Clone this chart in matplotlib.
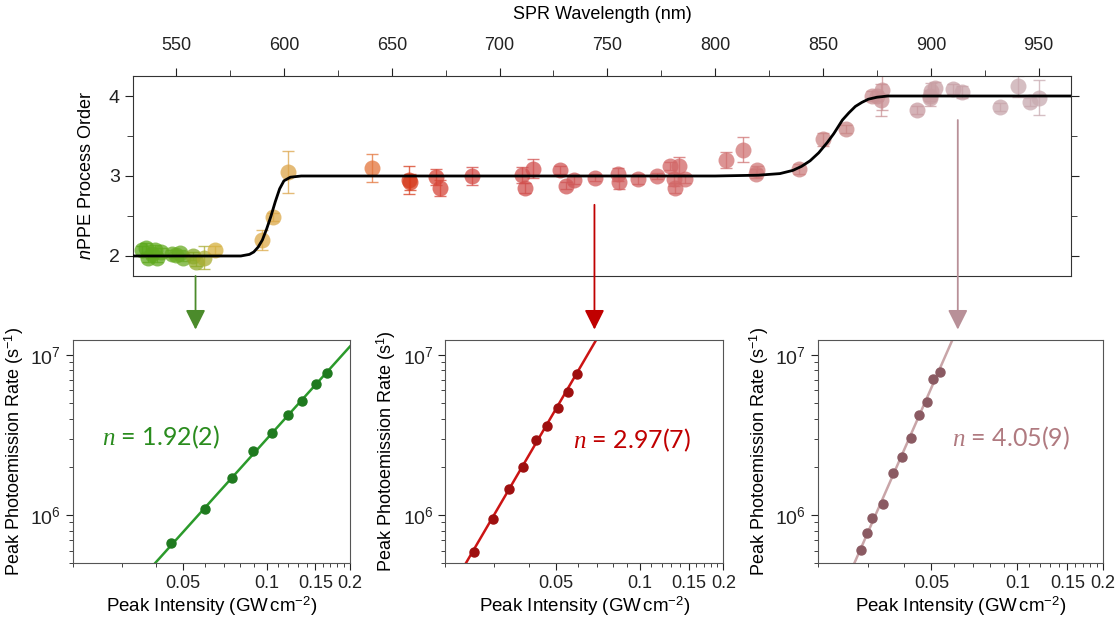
import numpy as np
import matplotlib
matplotlib.use('Agg')
import matplotlib.pyplot as plt
from matplotlib.colors import LinearSegmentedColormap
from matplotlib.ticker import FixedLocator, MultipleLocator, NullFormatter, LogLocator

plt.rcParams['font.family'] = ['Liberation Sans', 'DejaVu Sans']
plt.rcParams['mathtext.fontset'] = 'custom'
plt.rcParams['mathtext.rm'] = 'Liberation Sans'
plt.rcParams['mathtext.it'] = 'Liberation Serif:italic'
plt.rcParams['mathtext.sf'] = 'Liberation Sans:italic'

# --- top panel: process order vs SPR wavelength ---
wl = [534, 536, 537, 539, 540, 541, 543, 548, 550, 552, 553, 558, 559, 563, 568,
      590, 595, 602, 641, 658, 658.5, 670.5, 672.5, 687, 710.5, 711.6, 715.4,
      728, 731, 734.4, 744.3, 755, 755.5, 764, 773, 779, 783, 781, 781.5, 786,
      805, 813, 819.6, 819, 839, 850, 860.8, 872.8, 875, 877.5, 876.7, 893.8,
      899.5, 900.3, 901.7, 899.8, 910.5, 914.5, 932.3, 940.6, 946.2, 950.3]
order = [2.07, 2.10, 1.98, 2.03, 2.08, 1.97, 2.05, 2.03, 2.01, 2.04, 1.98, 2.00, 1.93, 1.98, 2.07,
         2.20, 2.49, 3.05, 3.10, 2.95, 2.93, 2.99, 2.85, 3.00, 3.01, 2.85, 3.09,
         3.07, 2.88, 2.95, 2.98, 3.02, 2.92, 2.96, 3.00, 3.12, 3.13, 2.96, 2.85, 2.96,
         3.20, 3.33, 3.07, 3.03, 3.09, 3.46, 3.59, 4.00, 4.00, 4.08, 3.95, 3.83,
         4.00, 4.06, 4.10, 3.97, 4.09, 4.05, 3.86, 4.12, 3.92, 3.98]
order_err = [0.06, 0.06, 0.05, 0.05, 0.06, 0.04, 0.05, 0.04, 0.04, 0.04, 0.04, 0.05, 0.06, 0.14, 0.05,
             0.12, 0.05, 0.26, 0.18, 0.18, 0.10, 0.10, 0.10, 0.11, 0.10, 0.06, 0.12,
             0.05, 0.04, 0.05, 0.04, 0.08, 0.08, 0.06, 0.04, 0.05, 0.11, 0.08, 0.06, 0.05,
             0.10, 0.16, 0.06, 0.06, 0.06, 0.08, 0.05, 0.06, 0.06, 0.26, 0.20, 0.05,
             0.06, 0.10, 0.08, 0.10, 0.06, 0.08, 0.05, 0.13, 0.05, 0.22]

# step curve
curve_wl = [530, 560, 580, 584, 586, 588, 590, 592, 594, 596, 598, 600, 603, 608, 620,
            700, 800, 820, 830, 836, 840, 844, 848, 852, 855, 859, 862, 865, 868, 871,
            875, 880, 890, 965]
curve_n = [2.00, 2.00, 2.00, 2.02, 2.05, 2.11, 2.20, 2.34, 2.50, 2.68, 2.84, 2.94, 2.985, 3.00, 3.00,
           3.00, 3.00, 3.01, 3.03, 3.07, 3.12, 3.19, 3.29, 3.42, 3.53, 3.70, 3.79, 3.87, 3.92, 3.96,
           3.985, 4.00, 4.00, 4.00]

# --- lower panels: rate vs intensity ---
I_1 = [0.0451, 0.0600, 0.0749, 0.0896, 0.105, 0.1199, 0.1346, 0.1509, 0.1648]
R_1 = [6.65e5, 1.09e6, 1.71e6, 2.52e6, 3.24e6, 4.22e6, 5.18e6, 6.59e6, 7.74e6]
fit_I_1 = [0.0396, 0.2]
fit_R_1 = [5.0e5, 1.13e7]

I_2 = [0.0254, 0.0298, 0.0340, 0.0382, 0.0423, 0.0466, 0.0507, 0.0551, 0.0594]
R_2 = [5.87e5, 9.5e5, 1.46e6, 2.01e6, 2.93e6, 3.60e6, 4.69e6, 5.87e6, 7.57e6]
fit_I_2 = [0.0237, 0.0697]
fit_R_2 = [5.0e5, 1.236e7]

I_3 = [0.0282, 0.0296, 0.0310, 0.0339, 0.0367, 0.0395, 0.0423, 0.0452, 0.0481, 0.0505, 0.0536]
R_3 = [6.03e5, 7.76e5, 9.53e5, 1.17e6, 1.84e6, 2.31e6, 3.05e6, 4.24e6, 5.08e6, 7.03e6, 7.82e6]
fit_I_3 = [0.0268, 0.0592]
fit_R_3 = [5.0e5, 1.24e7]

n_labels = ['1.92(2)', '2.97(7)', '4.05(9)']
arrow_wl = [559, 744, 912.5]
arrow_start = [1.75, 2.64, 3.70]
arrow_cols = ['#4b8b2b', '#c00000', '#b89098']

fig = plt.figure(figsize=(11.2, 6.17), dpi=100)

# colour along the wavelength axis
stops = [(530, '#58a81a'), (552, '#6aab25'), (560, '#94aa2a'), (568, '#d9b040'),
         (600, '#dca64a'), (640, '#e4783c'), (658, '#d63c1e'), (675, '#d64840'),
         (720, '#d05252'), (790, '#d26a6a'), (820, '#cf7878'), (860, '#c98686'),
         (880, '#c99297'), (910, '#c8a2a8'), (965, '#c8acb2')]
cmap = LinearSegmentedColormap.from_list(
    'spr', [((w - 530) / (965 - 530), c) for w, c in stops])

ax = fig.add_axes([0.11875, 0.5527, 0.8375, 0.3241])
for w, o, e in zip(wl, order, order_err):
    c = cmap((w - 530) / (965 - 530))
    ax.errorbar(w, o, yerr=e, fmt='o', ms=11.5, color=c, mec='none', alpha=0.75,
                ecolor=c, elinewidth=1, capsize=4.5, capthick=1, zorder=2)
ax.plot(curve_wl, curve_n, color='black', lw=2, zorder=3, solid_joinstyle='round')

ax.set_xlim(530, 965)
ax.set_ylim(1.75, 4.25)
ax.xaxis.set_ticks_position('top')
ax.xaxis.set_label_position('top')
ax.set_xticks(np.arange(550, 951, 50))
ax.xaxis.set_minor_locator(MultipleLocator(25))
ax.set_yticks([2, 3, 4])
ax.yaxis.set_minor_locator(MultipleLocator(0.5))
ax.tick_params(axis='x', which='both', direction='out', labelsize=13, colors='#222222', pad=10)
ax.tick_params(axis='y', which='both', direction='out', right=True, labelsize=14, colors='#222222')
ax.tick_params(which='major', length=6)
ax.tick_params(which='minor', length=4)
ax.set_xlabel('SPR Wavelength (nm)', fontsize=13, labelpad=13)
ax.set_ylabel(r'$\mathsf{n}$PPE Process Order', fontsize=13, labelpad=10)
for s in ax.spines.values():
    s.set_color('#333333')

# arrows from the top panel down to each lower panel
for w, y0, c in zip(arrow_wl, arrow_start, arrow_cols):
    ax.annotate('', xy=(w, 1.08), xytext=(w, y0), xycoords='data', annotation_clip=False,
                arrowprops=dict(arrowstyle='-|>,head_length=0.8,head_width=0.4',
                                mutation_scale=15, lw=1.3, shrinkA=0, shrinkB=0, color=c))

panels = [
    (0.0649, 0.2476, I_1, R_1, fit_I_1, fit_R_1, '#2b9a2b', '#1f7a1f', '#2a8c1e', r'Peak Photoemission Rate (s$^{-1}$)', 0.318, 0.566),
    (0.3976, 0.2482, I_2, R_2, fit_I_2, fit_R_2, '#cc1414', '#9e0f0f', '#c00000', r'Peak Photoemission Rate (s$^{1}$)', 0.670, 0.552),
    (0.7304, 0.2545, I_3, R_3, fit_I_3, fit_R_3, '#c9a5a8', '#8a5a62', '#b07a80', r'Peak Photoemission Rate (s$^{-1}$)', 0.676, 0.561),
]
for i, (x0, w, I, R, fI, fR, lc, mc, tc, ylab, tx, ty) in enumerate(panels):
    a = fig.add_axes([x0, 0.087, w, 0.362])
    a.plot(fI, fR, color=lc, lw=1.8, zorder=2)
    a.plot(I, R, 'o', color=mc, ms=6.5, zorder=3)
    a.set_xscale('log')
    a.set_yscale('log')
    a.set_xlim(0.02, 0.2)
    a.set_ylim(5e5, 1.24e7)
    a.xaxis.set_major_locator(FixedLocator([0.05, 0.1, 0.15, 0.2]))
    a.set_xticklabels(['0.05', '0.1', '0.15', '0.2'])
    a.xaxis.set_minor_locator(MultipleLocator(0.01))
    a.xaxis.set_minor_formatter(NullFormatter())
    a.yaxis.set_major_locator(LogLocator(base=10))
    a.yaxis.set_minor_locator(LogLocator(base=10, subs=np.arange(2, 10)))
    a.yaxis.set_minor_formatter(NullFormatter())
    a.tick_params(which='both', direction='out', labelsize=13, colors='#222222')
    a.tick_params(axis='y', labelsize=14)
    a.tick_params(which='major', length=5)
    a.tick_params(which='minor', length=3)
    for s in a.spines.values():
        s.set_color('#555555')
    a.set_xlabel('Peak Intensity (GW$\\,$cm$^{-2}$)', fontsize=13.5, labelpad=2)
    a.set_ylabel(ylab, fontsize=13, labelpad=3)
    a.text(tx, ty, r'$n$ = ' + n_labels[i], transform=a.transAxes, ha='center', va='center',
           fontsize=18, color=tc, family=['Lato', 'DejaVu Sans'])

fig.savefig('out.png', dpi=100)
